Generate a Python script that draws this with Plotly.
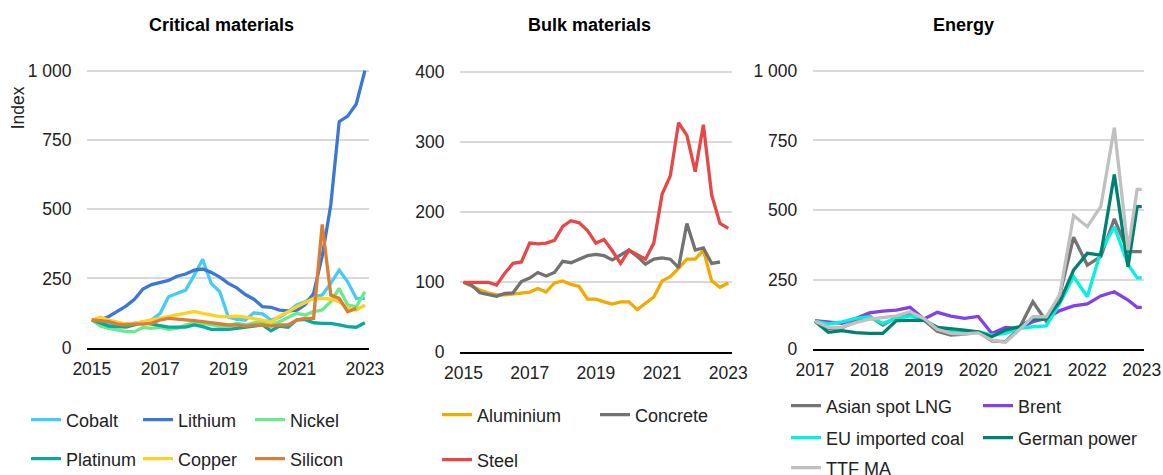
import plotly.graph_objects as go
import pandas as pd

# fechas trimestrales
q_2015 = pd.date_range("2015-01-01", "2023-01-01", freq="QS")
q_2017 = list(pd.date_range("2017-01-01", "2022-10-01", freq="QS")) + [pd.Timestamp("2022-12-01"), pd.Timestamp("2023-01-01")]

# Critical materials
cobalt = [100, 92, 88, 85, 85, 88, 92, 100, 124, 184, 195, 208, 262, 319, 232, 202, 110, 102, 100, 126, 122, 100, 110, 130, 154, 166, 184, 190, 232, 280, 238, 178, 178]
lithium = [100, 100, 113, 130, 150, 175, 212, 228, 237, 243, 258, 266, 280, 284, 272, 255, 232, 216, 192, 175, 148, 146, 136, 133, 135, 155, 196, 330, 515, 816, 836, 880, 1000]
nickel = [100, 78, 70, 64, 58, 58, 73, 70, 73, 66, 70, 82, 90, 88, 82, 78, 78, 88, 82, 90, 94, 82, 94, 110, 124, 118, 130, 136, 166, 214, 154, 148, 202]
platinum = [100, 88, 78, 76, 74, 82, 94, 85, 78, 74, 74, 74, 82, 76, 66, 66, 66, 70, 74, 78, 82, 61, 78, 74, 100, 102, 90, 88, 88, 82, 76, 74, 90]
copper = [100, 110, 100, 94, 85, 88, 94, 100, 106, 112, 118, 126, 131, 124, 118, 112, 112, 114, 110, 106, 100, 92, 114, 130, 148, 162, 178, 178, 175, 166, 142, 136, 154]
silicon = [100, 98, 94, 85, 82, 85, 85, 88, 100, 106, 104, 100, 98, 94, 90, 88, 82, 82, 78, 82, 82, 78, 82, 82, 100, 106, 106, 445, 190, 178, 130, 142, None]

# Bulk materials
aluminium = [100, 94, 89, 85, 82, 82, 83, 85, 86, 91, 86, 99, 102, 97, 94, 76, 76, 72, 69, 72, 72, 61, 70, 79, 102, 108, 120, 133, 133, 146, 102, 93, 99]
concrete = [100, 96, 85, 83, 80, 84, 85, 101, 106, 114, 109, 114, 130, 128, 133, 138, 140, 138, 132, 139, 146, 137, 126, 133, 135, 133, 121, 184, 146, 149, 127, 129, None]
steel = [100, 100, 100, 100, 96, 113, 127, 129, 156, 155, 156, 160, 180, 188, 185, 174, 156, 161, 145, 127, 146, 139, 133, 156, 226, 252, 328, 310, 258, 325, 225, 184, 177]

# Energy
asian_lng = [100, 74, 76, 100, 118, 86, 114, 126, 104, 64, 50, 54, 62, 29, 26, 74, 170, 100, 195, 402, 302, 332, 468, 350, 350, 350]
brent = [102, 96, 92, 110, 130, 136, 140, 150, 108, 132, 118, 110, 117, 56, 78, 74, 98, 110, 138, 155, 162, 191, 206, 176, 150, 150]
eu_coal = [100, 90, 98, 110, 116, 92, 110, 119, 108, 74, 62, 59, 62, 50, 56, 74, 80, 83, 165, 260, 188, 350, 440, 304, 256, 256]
german_power = [100, 60, 66, 59, 56, 56, 102, 104, 104, 78, 74, 68, 62, 44, 68, 80, 108, 108, 170, 284, 344, 338, 628, 296, 512, 512]
ttf_ma = [100, 78, 78, 95, 107, 112, 119, 134, 110, 71, 56, 54, 58, 32, 24, 68, 116, 116, 196, 480, 440, 512, 796, 356, 574, 574]

FONT = "Liberation Sans, Arial, sans-serif"
H = 475
W = 1163

fig = go.Figure()

series = [
    # (nombre, x, y, color, eje, leyenda)
    ("Cobalt", q_2015, cobalt, "#45cbfa", "x", "legend"),
    ("Lithium", q_2015, lithium, "#3b78d6", "x", "legend"),
    ("Nickel", q_2015, nickel, "#6aea8c", "x", "legend"),
    ("Platinum", q_2015, platinum, "#0aa99c", "x", "legend2"),
    ("Copper", q_2015, copper, "#ffd025", "x", "legend2"),
    ("Silicon", q_2015, silicon, "#da7e36", "x", "legend2"),
    ("Aluminium", q_2015, aluminium, "#f2a900", "x2", "legend3"),
    ("Concrete", q_2015, concrete, "#727272", "x2", "legend3"),
    ("Steel", q_2015, steel, "#e64848", "x2", "legend4"),
    ("Asian spot LNG", q_2017, asian_lng, "#747474", "x3", "legend5"),
    ("Brent", q_2017, brent, "#8442e6", "x3", "legend5"),
    ("EU imported coal", q_2017, eu_coal, "#05f0e2", "x3", "legend6"),
    ("German power", q_2017, german_power, "#00806f", "x3", "legend6"),
    ("TTF MA", q_2017, ttf_ma, "#c0c0c0", "x3", "legend7"),
]

for name, xs, ys, color, ax, leg in series:
    fig.add_trace(go.Scatter(
        x=xs, y=ys, name=name, mode="lines",
        line=dict(color=color, width=3.3),
        xaxis=ax, yaxis=ax.replace("x", "y"),
        legend=leg, connectgaps=False,
    ))


def px_x(p):
    return p / W


def px_y(p):
    return 1 - p / H


axis_common = dict(showgrid=False, showline=True, linecolor="black", linewidth=2,
                   ticks="outside", ticklen=4, tickcolor="rgba(0,0,0,0)", automargin=False,
                   tickfont=dict(size=17.5, color="#222"), fixedrange=True)
yaxis_common = dict(showgrid=True, gridcolor="#d9d9d9", gridwidth=1.5, zeroline=False,
                    showline=False, ticks="outside", ticklen=11, tickcolor="rgba(0,0,0,0)",
                    automargin=False, tickfont=dict(size=17.5, color="#222"), fixedrange=True)

yr = lambda y: pd.Timestamp(f"{y}-01-01")

fig.update_layout(
    width=W, height=H,
    margin=dict(l=0, r=0, t=0, b=0, autoexpand=False),
    paper_bgcolor="white", plot_bgcolor="white",
    font=dict(family=FONT, color="#222"),
    showlegend=True,
    xaxis=dict(axis_common, domain=[px_x(87), px_x(369)],
               range=[pd.Timestamp("2014-11-10"), pd.Timestamp("2023-02-14")],
               tickvals=[yr(y) for y in [2015, 2017, 2019, 2021, 2023]],
               ticktext=["2015", "2017", "2019", "2021", "2023"], anchor="y"),
    yaxis=dict(yaxis_common, domain=[px_y(347.7), px_y(69.3)], range=[0, 1005],
               tickvals=[0, 250, 500, 750, 1000], ticktext=["0", "250", "500", "750", "1 000"],
               anchor="x"),
    xaxis2=dict(axis_common, domain=[px_x(460), px_x(732.3)],
                range=[pd.Timestamp("2014-11-24"), pd.Timestamp("2023-02-14")],
                tickvals=[yr(y) for y in [2015, 2017, 2019, 2021, 2023]],
                ticktext=["2015", "2017", "2019", "2021", "2023"], anchor="y2"),
    yaxis2=dict(yaxis_common, domain=[px_y(352.3), px_y(69.5)], range=[0, 404],
                tickvals=[0, 100, 200, 300, 400], anchor="x2"),
    xaxis3=dict(axis_common, domain=[px_x(812.7), px_x(1144)],
                range=[pd.Timestamp("2016-12-17"), pd.Timestamp("2023-01-16")],
                tickvals=[yr(y) for y in range(2017, 2024)],
                ticktext=[str(y) for y in range(2017, 2024)], anchor="y3"),
    yaxis3=dict(yaxis_common, domain=[px_y(349), px_y(69.6)], range=[0, 1005],
                tickvals=[0, 250, 500, 750, 1000], ticktext=["0", "250", "500", "750", "1 000"],
                anchor="x3"),
)

# leyendas por fila
leg_common = dict(orientation="h", xanchor="left", yanchor="middle", bgcolor="rgba(0,0,0,0)",
                  font=dict(size=18, color="#222"), entrywidthmode="pixels", borderwidth=0)
fig.update_layout(
    legend=dict(leg_common, x=px_x(26), y=px_y(420), entrywidth=67),
    legend2=dict(leg_common, x=px_x(26), y=px_y(459), entrywidth=67),
    legend3=dict(leg_common, x=px_x(437), y=px_y(415), entrywidth=113),
    legend4=dict(leg_common, x=px_x(437), y=px_y(460), entrywidth=113),
    legend5=dict(leg_common, x=px_x(786), y=px_y(406), entrywidth=147),
    legend6=dict(leg_common, x=px_x(786), y=px_y(438), entrywidth=147),
    legend7=dict(leg_common, x=px_x(786), y=px_y(468), entrywidth=147),
)

# titulos de cada panel
for text, xc in [("Critical materials", 221.7), ("Bulk materials", 589), ("Energy", 963.7)]:
    fig.add_annotation(text=f"<b>{text}</b>", x=px_x(xc), y=px_y(25), xref="paper", yref="paper",
                       xanchor="center", yanchor="middle", showarrow=False,
                       font=dict(size=18, color="black", family=FONT))

fig.add_annotation(text="Index", textangle=-90, x=px_x(18.3), y=px_y(108), xref="paper", yref="paper",
                   xanchor="center", yanchor="middle", showarrow=False, font=dict(size=17.5, color="#222"))

# quitar el margen del body para que la figura ocupe la ventana
fig.write_html("out.html", post_script="document.body.style.margin='0';",
               config={"displayModeBar": False})
